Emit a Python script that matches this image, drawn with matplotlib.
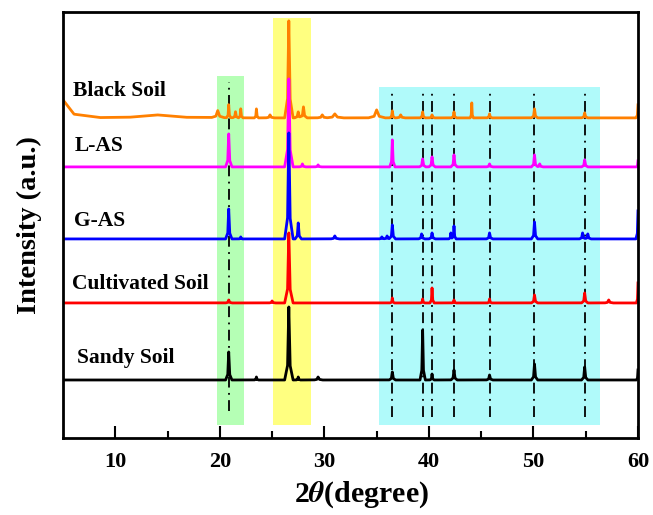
import matplotlib
matplotlib.use("Agg")
import matplotlib.pyplot as plt
import numpy as np

plt.rcParams["font.family"] = ["Liberation Serif", "DejaVu Serif"]
plt.rcParams["font.weight"] = "bold"
plt.rcParams["mathtext.fontset"] = "stix"

# Samples, plotted from top trace to bottom trace
samples = ["Black Soil", "L-AS", "G-AS", "Cultivated Soil", "Sandy Soil"]
colors = ["#FF8000", "#FF00FF", "#0000FF", "#FF0000", "#000000"]
offsets = [320, 271, 199, 135, 58]

# Peaks: (2theta, height, half width)
peaks_black = [(5.0, 18, 3.5), (14.0, 3, 9.0), (19.8, 7, 0.6), (20.85, 13, 0.2), (21.5, 6, 0.25),
               (22.0, 9, 0.2), (23.5, 9, 0.2), (24.8, 3, 0.4), (26.6, 97, 0.4),
               (27.5, 6, 0.35), (28.0, 11, 0.35), (29.8, 3, 0.5), (31.0, 4, 0.8),
               (35.0, 8, 0.8), (36.5, 7, 0.25), (37.3, 3, 0.4), (39.4, 6, 0.25),
               (40.3, 3, 0.25), (42.4, 6, 0.25), (44.1, 15, 0.15), (45.8, 4, 0.25),
               (50.1, 9, 0.3), (54.9, 5, 0.3), (60.0, 13, 0.2)]
peaks_las = [(20.85, 33, 0.3), (26.6, 88, 0.4), (27.9, 3, 0.3), (29.4, 2, 0.3),
             (36.5, 27, 0.25), (39.4, 8, 0.3), (40.3, 10, 0.3), (42.4, 12, 0.3),
             (45.8, 3, 0.3), (50.1, 12, 0.3), (50.6, 3, 0.3), (54.9, 7, 0.3),
             (60.0, 6, 0.15)]
peaks_gas = [(20.85, 30, 0.3), (22.0, 2, 0.15), (26.6, 106, 0.4), (27.5, 16, 0.3),
             (31.0, 3, 0.4), (35.5, 2, 0.3), (36.0, 3, 0.3), (36.5, 14, 0.3),
             (39.3, 5, 0.3), (40.3, 6, 0.3), (42.1, 6, 0.2), (42.4, 13, 0.2),
             (45.8, 6, 0.3), (50.1, 17, 0.3), (54.7, 6, 0.3), (55.2, 5, 0.3),
             (60.0, 28, 0.2)]
peaks_cult = [(20.85, 3, 0.3), (25.0, 2, 0.3), (26.6, 70, 0.4), (36.5, 5, 0.2),
              (39.4, 4, 0.2), (40.3, 15, 0.2), (42.4, 3, 0.2), (45.8, 4, 0.2),
              (50.1, 8, 0.3), (54.9, 10, 0.3), (57.2, 3, 0.4), (60.0, 20, 0.15)]
peaks_sandy = [(20.85, 28, 0.3), (23.5, 3, 0.2), (26.6, 73, 0.4), (27.5, 3, 0.2),
               (29.4, 3, 0.4), (36.5, 8, 0.3), (39.4, 50, 0.25), (40.3, 6, 0.2),
               (42.4, 10, 0.3), (45.8, 5, 0.3), (50.1, 16, 0.3), (54.9, 13, 0.3),
               (60.0, 10, 0.15)]
all_peaks = [peaks_black, peaks_las, peaks_gas, peaks_cult, peaks_sandy]

# Reference lines and highlighted bands
ref_green = [20.85]
ref_cyan = [36.5, 39.4, 40.3, 42.4, 45.8, 50.1, 54.9]
bands = [(19.7, 22.3, 13, 362, "#B5FFB5"),
         (25.1, 28.7, 13, 420, "#FFFF80"),
         (35.2, 56.4, 13, 351, "#B0FAFA")]

grid = np.linspace(5, 60, 5501)


def trace(base, peaks):
    y = np.full_like(grid, float(base))
    for p, h, w in peaks:
        # cusp-like peak outline through five points
        px = [p - w, p - 0.3 * w, p, p + 0.3 * w, p + w]
        py = [0, 0.2 * h, h, 0.2 * h, 0]
        y += np.interp(grid, px, py, left=0, right=0)
    return y


fig = plt.figure(figsize=(6.53, 5.15), dpi=100)
ax = fig.add_axes([0.0965, 0.1495, 0.8805, 0.8275])

for x0, x1, y0, y1, c in bands:
    ax.fill_between([x0, x1], y0, y1, color=c, linewidth=0, zorder=0)

ax.vlines(ref_green, 27, 356, colors="black", linestyles=(0, (6, 3, 1, 3)), linewidth=1.3, zorder=1)
ax.vlines(ref_cyan, 21, 346, colors="black", linestyles=(0, (6, 3, 1, 3)), linewidth=1.3, zorder=1)

for name, col, base, pk in zip(samples, colors, offsets, all_peaks):
    ax.plot(grid, trace(base, pk), color=col, linewidth=2.0, zorder=2)

label_pos = [(5.95, 347), (6.15, 292), (6.05, 217), (5.85, 154), (6.3, 80)]
for name, (lx, ly) in zip(samples, label_pos):
    ax.text(lx, ly, name, fontsize=15.5, fontweight="bold", va="center", ha="left")

ax.set_xlim(5, 60)
ax.set_ylim(0, 426)
ax.set_yticks([])
ax.set_xticks(range(10, 61, 10))
ax.set_xticks(range(15, 60, 10), minor=True)
ax.tick_params(axis="x", which="major", direction="in", length=9, width=1.5, labelsize=16, pad=10)
ax.tick_params(axis="x", which="minor", direction="in", length=5, width=1.5)
for lab in ax.get_xticklabels():
    lab.set_fontweight("bold")
for s in ax.spines.values():
    s.set_linewidth(2)

ax.set_xlabel(r"2$\theta$(degree)", fontsize=21.5, fontweight="bold")
ax.xaxis.set_label_coords(0.52, -0.097)
ax.set_ylabel("Intensity (a.u.)", fontsize=20.5, fontweight="bold", labelpad=15)

fig.savefig("out.png", dpi=100)
